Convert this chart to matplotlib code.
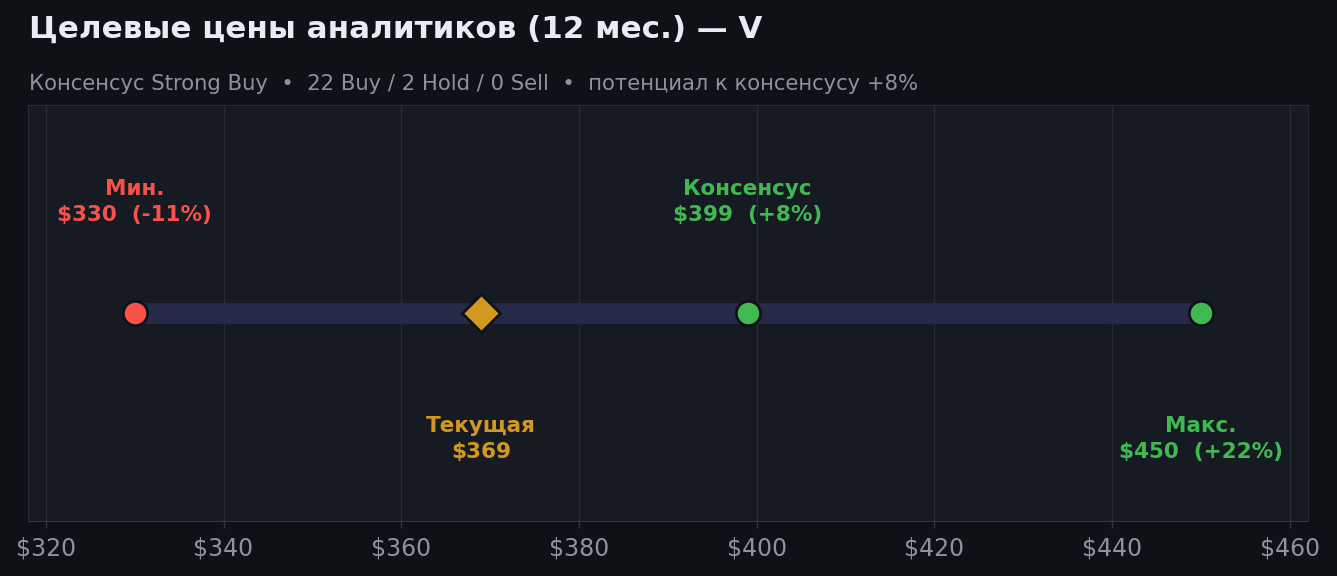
import numpy as np
import matplotlib.pyplot as plt

plt.rcParams['font.family'] = ['DejaVu Sans']

ticker = 'V'
low = 330
high = 450
consensus = 399
current = 369
n_buy, n_hold, n_sell = 22, 2, 0
rating = 'Strong Buy'
ticks = [320, 340, 360, 380, 400, 420, 440, 460]

bg = '#0e1116'
panel = '#161a22'
red = '#f85149'
green = '#3fb950'
gold = '#d29922'
muted = '#8b949e'

def pct(v):
    return round((v / current - 1) * 100)

fig = plt.figure(figsize=(13.37, 5.76), dpi=100, facecolor=bg)
ax = fig.add_axes([0.021, 0.0955, 0.957, 0.7225])
ax.set_facecolor(panel)

ax.plot([low, high], [0, 0], color='#262a48', lw=15, solid_capstyle='butt', zorder=2)
ax.plot(low, 0, 'o', ms=17.5, color=red, mec='#0e1116', mew=2, zorder=4)
ax.plot(high, 0, 'o', ms=17.5, color=green, mec='#0e1116', mew=2, zorder=4)
ax.plot(consensus, 0, 'o', ms=17.5, color=green, mec='#0e1116', mew=2, zorder=4)
ax.plot(current, 0, 'D', ms=19, color=gold, mec='#0e1116', mew=2, zorder=5)

lab = dict(ha='center', va='center', fontsize=15.5, fontweight='bold', linespacing=1.38)
ax.text(low, 0.535, 'Мин.\n${}  ({:+d}%)'.format(low, pct(low)), color=red, **lab)
ax.text(consensus, 0.535, 'Консенсус\n${}  ({:+d}%)'.format(consensus, pct(consensus)), color=green, **lab)
ax.text(current, -0.605, 'Текущая\n${}'.format(current), color=gold, **lab)
ax.text(high, -0.605, 'Макс.\n${}  ({:+d}%)'.format(high, pct(high)), color=green, **lab)

ax.set_xlim(low - 12, high + 12)
ax.set_ylim(-1, 1)
ax.set_yticks([])
ax.set_xticks(ticks)
ax.set_xticklabels(['${}'.format(t) for t in ticks])
ax.tick_params(axis='x', colors='#30363d', labelcolor=muted, labelsize=17, length=5, width=1, pad=6)
ax.grid(axis='x', color='#262b34', lw=1)
ax.set_axisbelow(True)
for s in ax.spines.values():
    s.set_color('#262b34')
ax.spines['bottom'].set_color('#30363d')

fig.text(0.022, 0.95, 'Целевые цены аналитиков (12 мес.) — {}'.format(ticker),
         color='#e6edf3', fontsize=22.3, fontweight='bold', va='center')
fig.text(0.022, 0.855, 'Консенсус {}  •  {} Buy / {} Hold / {} Sell  •  потенциал к консенсусу {:+d}%'.format(
    rating, n_buy, n_hold, n_sell, pct(consensus)), color=muted, fontsize=15.25, va='center')

fig.savefig('out.png', dpi=100, facecolor=bg)
